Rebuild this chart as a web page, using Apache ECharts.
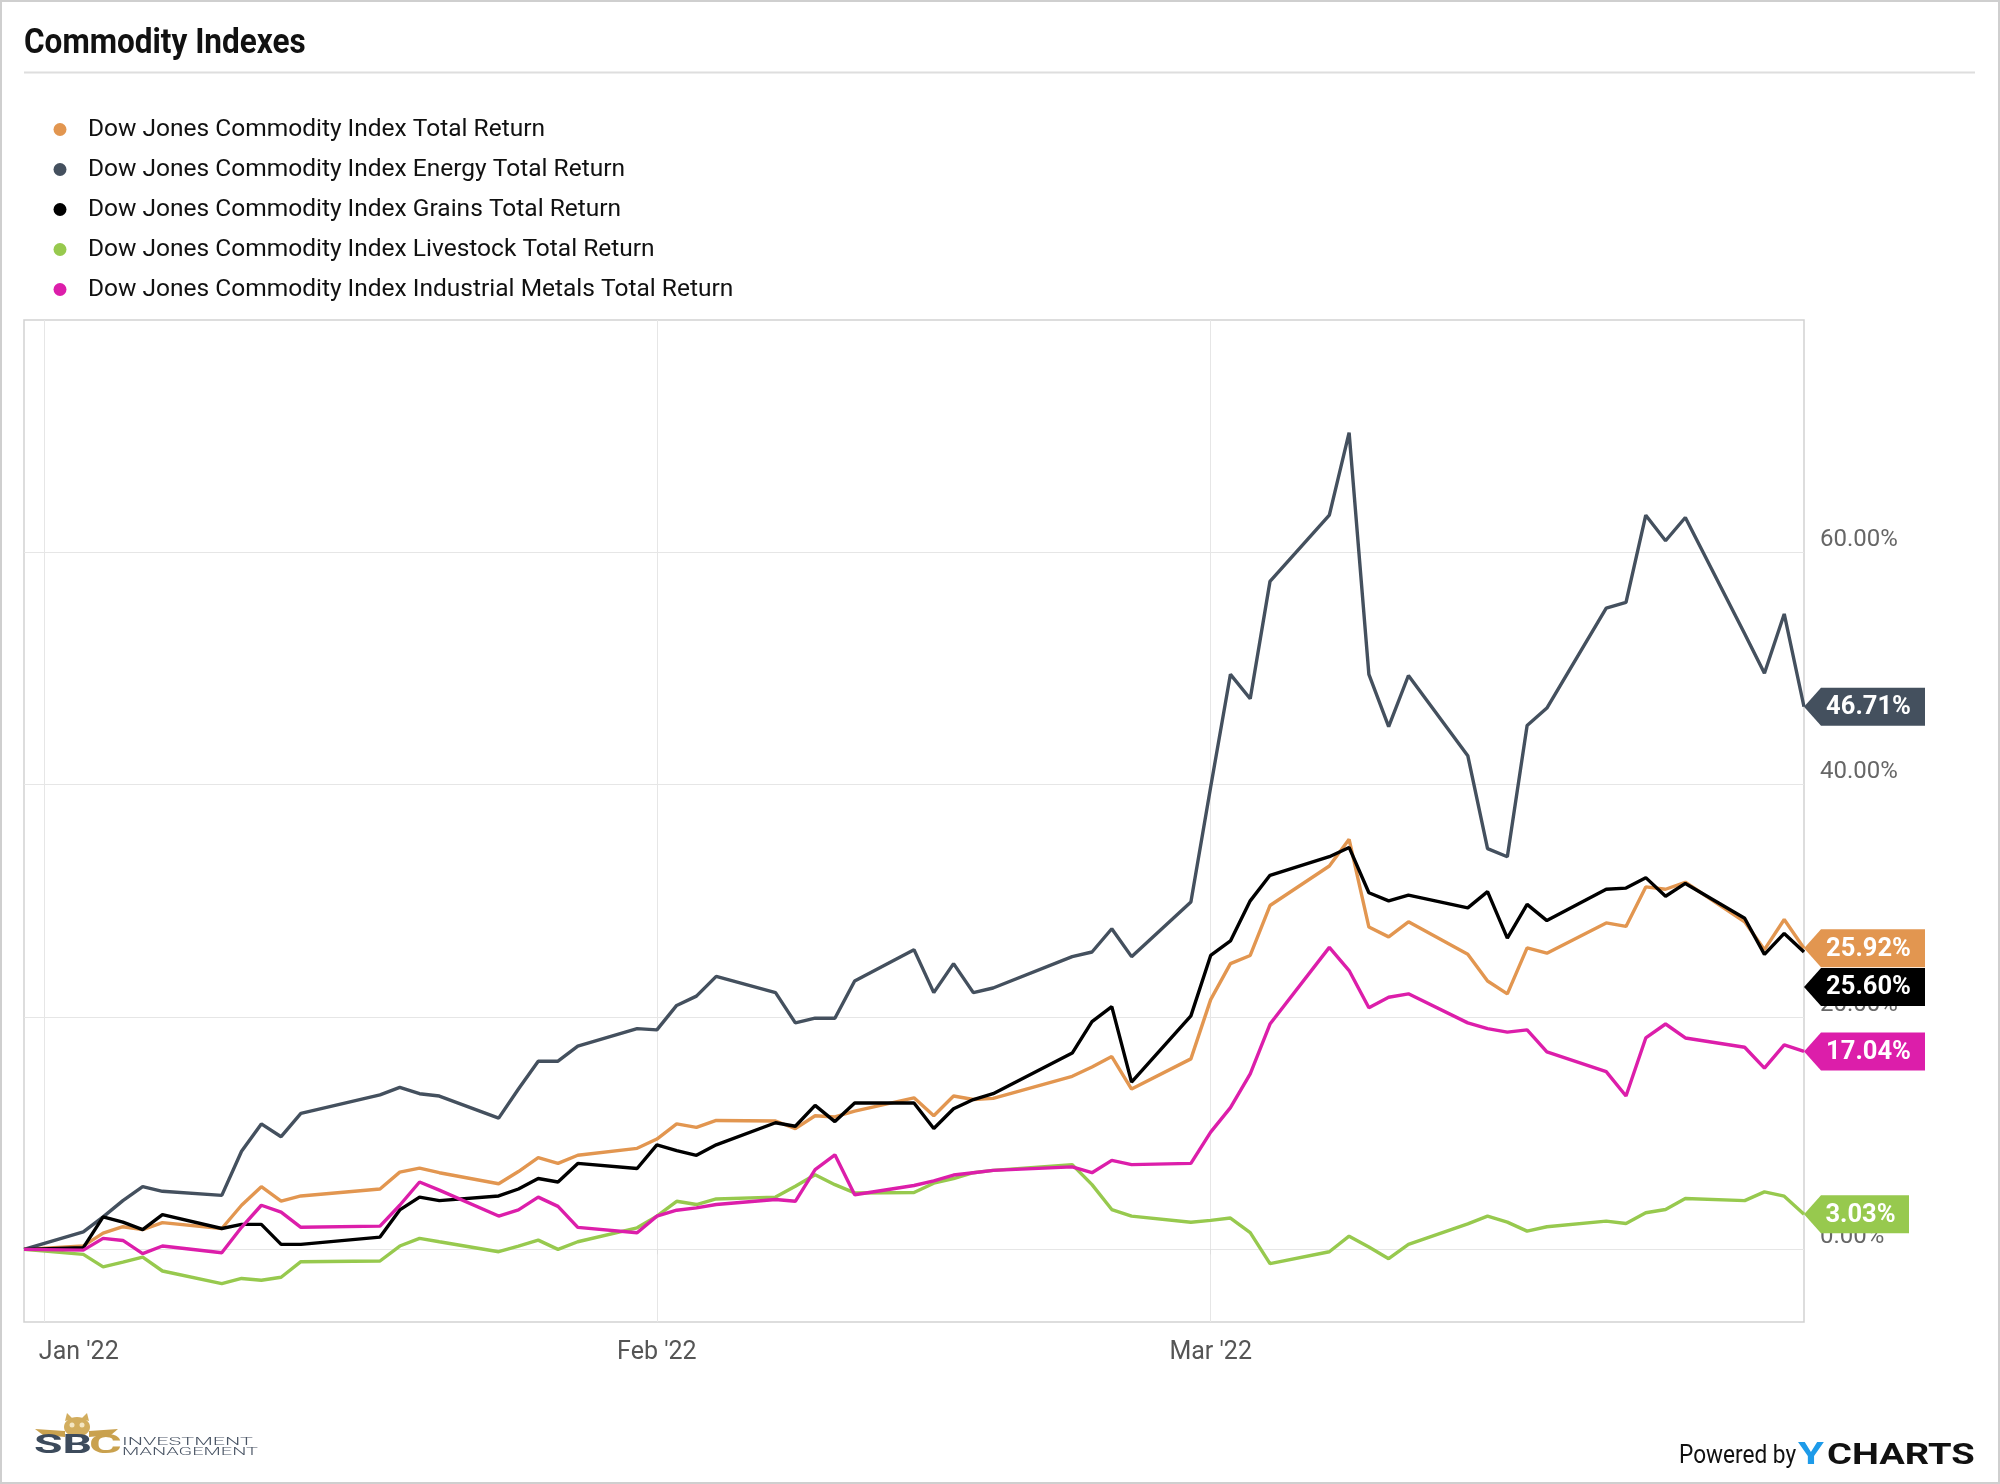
<!DOCTYPE html>
<html>
<head>
<meta charset="utf-8">
<script src="https://cdn.jsdelivr.net/npm/echarts@6/dist/echarts.min.js"></script>
<style>
html,body{margin:0;padding:0;background:#fff;}
#chart{width:2000px;height:1484px;}
</style>
</head>
<body>
<div id="chart"></div>
<script>
// ---------------- DATA ----------------
const dates = [
  '2021-12-31',
  '2022-01-03','2022-01-04','2022-01-05','2022-01-06','2022-01-07',
  '2022-01-10','2022-01-11','2022-01-12','2022-01-13','2022-01-14',
  '2022-01-18','2022-01-19','2022-01-20','2022-01-21',
  '2022-01-24','2022-01-25','2022-01-26','2022-01-27','2022-01-28',
  '2022-01-31','2022-02-01','2022-02-02','2022-02-03','2022-02-04',
  '2022-02-07','2022-02-08','2022-02-09','2022-02-10','2022-02-11',
  '2022-02-14','2022-02-15','2022-02-16','2022-02-17','2022-02-18',
  '2022-02-22','2022-02-23','2022-02-24','2022-02-25',
  '2022-02-28','2022-03-01','2022-03-02','2022-03-03','2022-03-04',
  '2022-03-07','2022-03-08','2022-03-09','2022-03-10','2022-03-11',
  '2022-03-14','2022-03-15','2022-03-16','2022-03-17','2022-03-18',
  '2022-03-21','2022-03-22','2022-03-23','2022-03-24','2022-03-25',
  '2022-03-28','2022-03-29','2022-03-30','2022-03-31'
];

const seriesNames = [
  'Dow Jones Commodity Index Total Return',
  'Dow Jones Commodity Index Energy Total Return',
  'Dow Jones Commodity Index Grains Total Return',
  'Dow Jones Commodity Index Livestock Total Return',
  'Dow Jones Commodity Index Industrial Metals Total Return'
];

const totalReturn = [
  0,
  0.3, 1.4, 1.95, 1.7, 2.3,
  1.8, 3.8, 5.4, 4.15, 4.6,
  5.2, 6.65, 7.0, 6.6,
  5.65, 6.7, 7.9, 7.4, 8.1,
  8.7, 9.5, 10.8, 10.5, 11.1,
  11.05, 10.4, 11.5, 11.4, 11.9,
  13.05, 11.5, 13.2, 12.9, 13.0,
  14.9, 15.7, 16.6, 13.8,
  16.4, 21.5, 24.6, 25.3, 29.6,
  33.0, 35.3, 27.75, 26.9, 28.2,
  25.4, 23.1, 22.0, 25.95, 25.5,
  28.1, 27.8, 31.2, 31.0, 31.6,
  28.2, 25.8, 28.4, 25.92
];

const energy = [
  0,
  1.5, 2.8, 4.2, 5.4, 5.0,
  4.65, 8.45, 10.8, 9.7, 11.7,
  13.3, 13.95, 13.4, 13.2,
  11.3, 13.8, 16.2, 16.2, 17.5,
  19.0, 18.9, 21.0, 21.8, 23.5,
  22.1, 19.5, 19.9, 19.9, 23.1,
  25.8, 22.1, 24.6, 22.1, 22.5,
  25.2, 25.6, 27.6, 25.2,
  29.9, 39.8, 49.5, 47.4, 57.5,
  63.2, 70.3, 49.5, 45.0, 49.4,
  42.5, 34.5, 33.8, 45.1, 46.6,
  55.2, 55.7, 63.2, 61.0, 63.0,
  53.0, 49.6, 54.7, 46.71
];

const grains = [
  0,
  0.15, 2.8, 2.35, 1.7, 3.0,
  1.8, 2.15, 2.15, 0.43, 0.43,
  1.06, 3.4, 4.5, 4.2,
  4.6, 5.2, 6.1, 5.8, 7.4,
  6.96, 9.0, 8.5, 8.1, 9.0,
  10.9, 10.6, 12.4, 11.0, 12.6,
  12.6, 10.4, 12.1, 12.9, 13.4,
  16.9, 19.6, 20.9, 14.4,
  20.1, 25.3, 26.55, 30.0, 32.2,
  33.8, 34.6, 30.7, 30.0, 30.5,
  29.4, 30.8, 26.8, 29.7, 28.3,
  31.0, 31.1, 32.0, 30.4, 31.5,
  28.5, 25.4, 27.2, 25.60
];

const livestock = [
  0,
  -0.43, -1.5, -1.1, -0.66, -1.86,
  -2.95, -2.5, -2.66, -2.4, -1.06,
  -1.0, 0.29, 0.95, 0.66,
  -0.2, 0.29, 0.8, 0.0, 0.66,
  1.86, 2.86, 4.14, 3.86, 4.34,
  4.5, 5.43, 6.43, 5.57, 4.86,
  4.9, 5.7, 6.1, 6.6, 6.8,
  7.3, 5.57, 3.43, 2.86,
  2.34, 2.5, 2.7, 1.45, -1.23,
  -0.2, 1.14, 0.2, -0.8, 0.43,
  2.2, 2.86, 2.35, 1.57, 1.95,
  2.43, 2.23, 3.15, 3.43, 4.38,
  4.2, 4.95, 4.58, 3.03
];

const metals = [
  0,
  -0.06, 0.95, 0.77, -0.37, 0.29,
  -0.29, 1.9, 3.8, 3.2, 1.9,
  2.0, 3.8, 5.8, 5.1,
  2.87, 3.4, 4.5, 3.7, 1.9,
  1.43, 2.86, 3.37, 3.57, 3.86,
  4.3, 4.14, 6.86, 8.14, 4.7,
  5.5, 5.9, 6.4, 6.6, 6.8,
  7.1, 6.6, 7.66, 7.3,
  7.4, 10.1, 12.2, 15.1, 19.4,
  26.0, 24.0, 20.8, 21.7, 22.0,
  19.5, 19.0, 18.7, 18.9, 17.0,
  15.3, 13.2, 18.2, 19.4, 18.2,
  17.4, 15.6, 17.6, 17.04
];

const yTickValues = [0, 20, 40, 60];
const xTickDates = ['2022-01-01', '2022-02-01', '2022-03-01'];
const xTickLabels = ["Jan '22", "Feb '22", "Mar '22"];

// ---------------- STYLE ----------------
const colors = ['#e29650', '#44505e', '#000000', '#97c94e', '#dc1eaa'];
const allSeries = [totalReturn, energy, grains, livestock, metals];
const tagWidths = [121, 121, 121, 105, 121];
const tagShiftY = [0, 0, 35, 0, 0];

function ts(s) {
  const p = s.split('-').map(Number);
  return Date.UTC(p[0], p[1] - 1, p[2]);
}
function tagPath(w) {
  return 'path://M0,19 L17,0 L' + w + ',0 L' + w + ',38 L17,38 Z';
}

const last = dates.length - 1;
const xTickTs = xTickDates.map(ts);

const chart = echarts.init(document.getElementById('chart'), null, {renderer: 'canvas'});

const txt = {textAlign: 'left', align: 'left', textVerticalAlign: 'middle', verticalAlign: 'middle'};
function withAlign(o) { return Object.assign({}, txt, o); }

const option = {
  animation: false,
  backgroundColor: '#ffffff',
  grid: {
    left: 24, right: 196, top: 320, bottom: 162,
    show: true, borderColor: '#d2d2d2', borderWidth: 1.5,
    containLabel: false, outerBoundsMode: 'none'
  },
  legend: {
    orient: 'vertical', left: 48.5, top: 112,
    icon: 'circle', itemWidth: 46, itemHeight: 13, itemGap: 15,
    selectedMode: false,
    textStyle: {fontFamily: 'Roboto', fontSize: 24.5, color: '#111', lineHeight: 25},
    data: seriesNames
  },
  xAxis: {
    type: 'value',
    min: ts(dates[0]),
    max: ts(dates[last]),
    axisLine: {show: false},
    axisTick: {show: true, length: 5, lineStyle: {color: '#dddddd'}, customValues: xTickTs},
    splitLine: {show: true, lineStyle: {color: '#e6e6e6', width: 1}},
    axisLabel: {
      customValues: xTickTs,
      margin: 18.5,
      color: '#555',
      fontFamily: 'Roboto',
      fontSize: 25,
      formatter: function (v) {
        const idx = xTickTs.indexOf(v);
        const label = idx >= 0 ? xTickLabels[idx] : '';
        return idx === 0 ? '{j|' + label + '}' : label;
      },
      rich: {
        j: {padding: [0, 0, 0, 70], color: '#555', fontFamily: 'Roboto', fontSize: 25}
      }
    }
  },
  yAxis: {
    type: 'value',
    position: 'right',
    min: -6.25,
    max: 80,
    axisLine: {show: false},
    axisTick: {show: false, customValues: yTickValues},
    splitLine: {show: true, lineStyle: {color: '#e6e6e6', width: 1}},
    axisLabel: {
      customValues: yTickValues,
      margin: 16,
      color: '#666',
      fontFamily: 'Roboto',
      fontSize: 24,
      verticalAlign: 'bottom',
      lineHeight: 25,
      formatter: function (v) { return v.toFixed(2) + '%'; }
    }
  },
  series: allSeries.map(function (vals, i) {
    return {
      name: seriesNames[i],
      type: 'line',
      data: dates.map(function (d, j) { return [ts(d), vals[j]]; }),
      showSymbol: false,
      symbol: 'circle',
      lineStyle: {width: 3.4, color: colors[i]},
      itemStyle: {color: colors[i]},
      emphasis: {disabled: true},
      silent: true,
      markPoint: {
        silent: true,
        symbol: tagPath(tagWidths[i]),
        symbolSize: [tagWidths[i], 38],
        symbolKeepAspect: false,
        symbolOffset: [tagWidths[i] / 2, tagShiftY[i]],
        itemStyle: {color: colors[i]},
        label: {
          show: true, position: 'inside', offset: [4, 1],
          color: '#ffffff', fontFamily: 'Roboto', fontWeight: 'bold', fontSize: 25.5,
          formatter: function (p) { return Number(p.value).toFixed(2) + '%'; }
        },
        data: [{coord: [ts(dates[last]), vals[last]], value: vals[last]}]
      }
    };
  }),
  graphic: [
    {type: 'rect', silent: true, shape: {x: 1, y: 1, width: 1998, height: 1482},
     style: {fill: 'none', stroke: '#cfcfcf', lineWidth: 2}},
    {type: 'text', silent: true, x: 24, y: 44.5, scaleX: 0.9,
     style: withAlign({text: 'Commodity Indexes', font: 'bold 35px Roboto', fill: '#111'})},
    {type: 'line', silent: true, shape: {x1: 24, y1: 72.5, x2: 1975, y2: 72.5},
     style: {stroke: '#dedede', lineWidth: 2}},
    {type: 'text', silent: true, x: 1679, y: 1456, scaleX: 0.87,
     style: withAlign({text: 'Powered by', font: '26px Roboto', fill: '#111'})},
    {type: 'text', silent: true, x: 1798, y: 1456, scaleX: 1.35,
     style: withAlign({text: 'Y', font: 'bold 31px Roboto', fill: '#1e9be9'})},
    {type: 'text', silent: true, x: 1827, y: 1456, scaleX: 1.27,
     style: withAlign({text: 'CHARTS', font: 'bold 30px Roboto', fill: '#111'})},
    {type: 'polygon', silent: true, shape: {points: [[35,1429],[65,1431],[65,1437],[43,1435]]},
     style: {fill: '#c9a14e'}},
    {type: 'polygon', silent: true, shape: {points: [[118,1429],[89,1431],[89,1437],[111,1435]]},
     style: {fill: '#c9a14e'}},
    {type: 'ellipse', silent: true, shape: {cx: 77, cy: 1427, rx: 13, ry: 10},
     style: {fill: '#d2ad5e'}},
    {type: 'polygon', silent: true, shape: {points: [[65,1421],[67,1413],[73,1419]]},
     style: {fill: '#d2ad5e'}},
    {type: 'polygon', silent: true, shape: {points: [[89,1421],[87,1413],[81,1419]]},
     style: {fill: '#d2ad5e'}},
    {type: 'circle', silent: true, shape: {cx: 72, cy: 1425, r: 2.5}, style: {fill: '#f3e6c4'}},
    {type: 'circle', silent: true, shape: {cx: 82, cy: 1425, r: 2.5}, style: {fill: '#f3e6c4'}},
    {type: 'text', silent: true, x: 34, y: 1447, scaleX: 1.85,
     style: withAlign({text: 'SB', font: 'bold 25px Roboto', fill: '#3d4b5c'})},
    {type: 'text', silent: true, x: 89, y: 1447, scaleX: 2.0,
     style: withAlign({text: 'C', font: 'bold 25px Roboto', fill: '#c9a14e'})},
    {type: 'text', silent: true, x: 122, y: 1442, scaleX: 2.05,
     style: withAlign({text: 'INVESTMENT', font: '300 10.5px Roboto', fill: '#4a5565'})},
    {type: 'text', silent: true, x: 122, y: 1452, scaleX: 1.9,
     style: withAlign({text: 'MANAGEMENT', font: '300 10.5px Roboto', fill: '#4a5565'})}
  ]
};

chart.setOption(option);
</script>
</body>
</html>
